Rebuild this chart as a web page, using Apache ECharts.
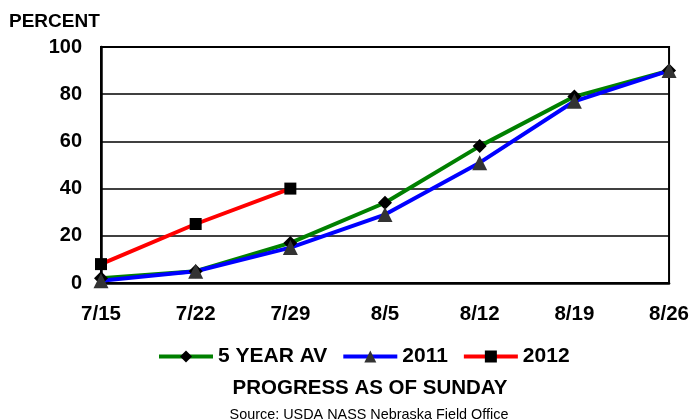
<!DOCTYPE html>
<html><head><meta charset="utf-8">
<script src="https://cdn.jsdelivr.net/npm/echarts@6/dist/echarts.min.js"></script>
<style>html,body{margin:0;padding:0;background:#fff}#c{width:692px;height:419px}</style>
</head><body><div id="c"></div>
<script>
const categories = ['7/15','7/22','7/29','8/5','8/12','8/19','8/26'];
const fiveYearAv = [2, 5, 17, 34, 58, 79, 90];
const y2011 = [1, 5, 15, 29, 51, 77, 90];
const y2012 = [8, 25, 40, null, null, null, null];
const yTicks = [0, 20, 40, 60, 80, 100];

const FONT = '"Liberation Sans", Arial, sans-serif';
const chart = echarts.init(document.getElementById('c'));
chart.setOption({
  animation: false,
  textStyle: { fontFamily: FONT },
  grid: { left: 101, right: 22, top: 47, bottom: 136, containLabel: false, show: true, borderColor: '#000', borderWidth: 2 },
  xAxis: {
    type: 'category', data: categories, boundaryGap: false,
    axisLine: { lineStyle: { color: '#000', width: 2.5 } },
    axisTick: { show: false },
    axisLabel: { color: '#000', fontWeight: 'bold', fontSize: 20.5, fontFamily: FONT, margin: 21 },
    splitLine: { show: false }
  },
  yAxis: {
    type: 'value', min: yTicks[0], max: yTicks[yTicks.length - 1], interval: 20,
    axisLine: { show: true, lineStyle: { color: '#000', width: 2.5 } },
    axisTick: { show: false },
    axisLabel: { color: '#000', fontWeight: 'bold', fontSize: 20, fontFamily: FONT, margin: 19 },
    splitLine: { show: true, lineStyle: { color: '#000', width: 1.5 } }
  },
  legend: {
    top: 341, left: 152, itemWidth: 54, itemHeight: 15, itemGap: 14,
    lineStyle: { width: 4 },
    textStyle: { color: '#000', fontWeight: 'bold', fontSize: 21, fontFamily: FONT },
    data: ['5 YEAR AV', '2011', '2012']
  },
  graphic: [
    { type: 'text', left: 9, top: 12, style: { text: 'PERCENT', font: 'bold 19px ' + FONT, fill: '#000' } },
    { type: 'text', x: 370, y: 378, style: { text: 'PROGRESS AS OF SUNDAY', align: 'center', font: 'bold 20.5px ' + FONT, fill: '#000' } },
    { type: 'text', x: 369, y: 408, style: { text: 'Source: USDA NASS Nebraska Field Office', align: 'center', font: '14.4px ' + FONT, fill: '#000' } }
  ],
  series: [
    { name: '5 YEAR AV', type: 'line', data: fiveYearAv, symbol: 'diamond', symbolSize: 14,
      lineStyle: { color: '#008000', width: 4 }, itemStyle: { color: '#000' } },
    { name: '2011', type: 'line', data: y2011, symbol: 'triangle', symbolSize: 15,
      lineStyle: { color: '#0000ff', width: 4 }, itemStyle: { color: '#333' } },
    { name: '2012', type: 'line', data: y2012, symbol: 'rect', symbolSize: 12,
      lineStyle: { color: '#ff0000', width: 4 }, itemStyle: { color: '#000' } }
  ]
});
</script></body></html>
